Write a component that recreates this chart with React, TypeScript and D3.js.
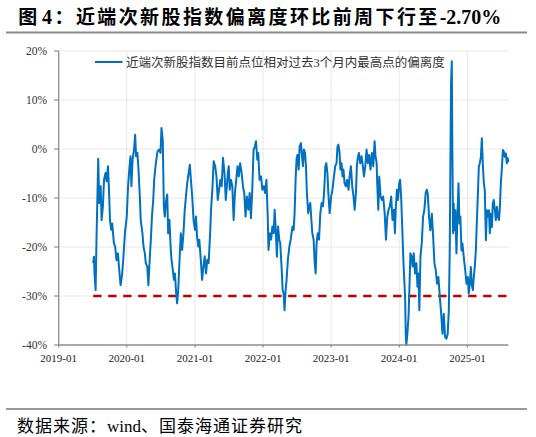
import * as d3 from 'd3';

// readings of the line, per year: day (MM-DD) and deviation (%)
const days2019 = [
  '07-05', '07-09', '07-12', '07-18', '07-23',
  '08-01', '08-06', '08-14', '08-19', '08-26',
  '09-01', '09-09', '09-15', '09-22', '09-27',
  '10-03', '10-10', '10-15', '10-24', '10-31',
  '11-07', '11-15', '11-20', '11-29',
  '12-06', '12-13', '12-22',
];
const dev2019 = [
  -23.3, -22, -25.4, -28.8, -17.9,
  -2, -11, -7.6, -14.5, -11.7,
  -6.3, -4.9, -6.6, -3.5, -7.6,
  -14.5, -16.5, -15.2, -19.2, -20,
  -22.7, -21.3, -24, -27.8,
  -26, -22.7, -17.2,
];

const days2020 = [
  '01-01', '01-08', '01-16', '01-21', '01-26',
  '02-01', '02-09', '02-15', '02-20', '02-27',
  '03-04', '03-11', '03-16', '03-25', '03-31',
  '04-07', '04-12', '04-20', '04-26',
  '05-02', '05-09', '05-15', '05-22', '05-27',
  '06-05', '06-14', '06-23', '06-30',
  '07-05', '07-12', '07-18', '07-23', '07-30',
  '08-05', '08-10', '08-17', '08-23', '08-28',
  '09-04', '09-10', '09-15', '09-22', '09-27',
  '10-03', '10-10', '10-17', '10-24', '10-31',
  '11-07', '11-15', '11-20', '11-29',
  '12-04', '12-10', '12-17', '12-24',
];
const dev2020 = [
  -13.8, -7.6, -3.5, -1.5, -7.6,
  -2.2, -0.1, 2.9, -1.5, -0.8,
  -4.2, -9.7, -14.5, -17.2, -20,
  -21.3, -23.3, -24, -27.8,
  -23.3, -18.6, -13.8, -10.4, -6.3,
  -2.9, -0.5, -0.1, -0.8,
  4.3, 1.9, -11.7, -13.8, -10.4,
  -9.3, -17.2, -14.5, -19.9, -22.6,
  -24.7, -26.7, -25.4, -29.4, -31.5,
  -28.8, -22.6, -17.2, -20.6, -17.2,
  -12.4, -9, -7, -4.6,
  -3.2, -6.3, -9.7, -14.5,
];

const days2021 = [
  '01-01', '01-06', '01-12', '01-19', '01-24',
  '02-01', '02-08', '02-15', '02-22',
  '03-01', '03-08', '03-15', '03-23', '03-28',
  '04-04', '04-11', '04-19', '04-26',
  '05-03', '05-10', '05-17', '05-24', '05-31',
  '06-08', '06-15', '06-26',
  '07-01', '07-06', '07-13', '07-20', '07-27',
  '08-03', '08-10', '08-17', '08-24', '08-31',
  '09-08', '09-15', '09-22', '09-29',
  '10-06', '10-14', '10-21', '10-28',
  '11-04', '11-11', '11-18', '11-24',
  '12-01', '12-06', '12-13', '12-21', '12-28',
];
const dev2021 = [
  -16.5, -13.8, -17.9, -19.9, -18.5,
  -22.6, -26.7, -24, -21.9,
  -25.4, -22.6, -23.3, -17.2, -12.4,
  -8.3, -2.5, -3.5, -5.6,
  -10.4, -8.3, -6.3, -7.6, -1.8,
  -4.9, -10.4, -4.9,
  -3.5, -8.3, -6.3, -7.6, -14.5,
  -9, -6.3, -3.5, -5.6, -2.9,
  -4.9, -7.6, -9, -13.8,
  -9.7, -12.4, -9, -14.1,
  -8.3, -0.1, 0.5, 1.6,
  -2.2, -0.8, -6.3, -5.6, -8.3,
];

const days2022 = [
  '01-05', '01-12', '01-19', '01-26', '01-30',
  '02-06', '02-13', '02-20', '02-27',
  '03-04', '03-11', '03-16', '03-22', '03-29',
  '04-03', '04-10', '04-16', '04-21', '04-26',
  '05-02', '05-07', '05-14', '05-22', '05-29',
  '06-08', '06-14', '06-19', '06-25', '06-30',
  '07-05', '07-11', '07-16', '07-23', '07-29',
  '08-03', '08-08', '08-14', '08-19', '08-24', '08-31',
  '09-06', '09-11', '09-17', '09-22', '09-29',
  '10-05', '10-10', '10-15', '10-21', '10-28',
  '11-04', '11-11', '11-18', '11-24',
  '12-01', '12-06', '12-12', '12-17', '12-24',
];
const dev2022 = [
  -7.6, -9, -6.3, -13.8, -20.6,
  -17.2, -18.5, -15.8, -17.2,
  -12.4, -17.2, -22, -15.8, -18.5,
  -19.2, -24, -28.8, -29.4, -32.9,
  -28.8, -26.7, -22.6, -19.9, -18.5,
  -15.8, -16.5, -13.1, -5.6, -1.8,
  -1.2, -4.2, 0.5, 1.2, -1.5,
  -3.5, -0.1, -0.8, -3.5, -9, -13.1,
  -11.7, -11, -14.5, -17.2, -18.5,
  -23.3, -25.4, -19.2, -17.2, -18.5,
  -13.1, -11, -11.7, -9,
  -3.5, -2.9, -4.9, -9, -13.1,
];

const days2023 = [
  '01-01', '01-08', '01-16', '01-23', '01-30',
  '02-04', '02-09', '02-15', '02-20', '02-26',
  '03-03', '03-08', '03-14', '03-21', '03-28',
  '04-04', '04-10', '04-17', '04-24',
  '05-01', '05-07', '05-14', '05-19', '05-24', '05-30',
  '06-06', '06-13', '06-20', '06-26',
  '07-03', '07-10', '07-17', '07-24', '07-31',
  '08-08', '08-15', '08-22', '08-27',
  '09-02', '09-05', '09-11', '09-16', '09-23', '09-30',
  '10-07', '10-15', '10-22', '10-29',
  '11-05', '11-12', '11-19', '11-26',
  '12-04', '12-09', '12-14', '12-20', '12-25',
];
const dev2023 = [
  -9.7, -8.3, -5.6, -3.5, -2.9,
  0.5, 0.9, -0.8, -4.2, -2.9,
  -5.6, -4.2, -7, -7.6, -6.3,
  -8.3, -5.6, -3.5, -7.6,
  -9.7, -12.4, -9, -3.5, -1.8, -0.8,
  -2.9, -1.5, -3.5, -5.6,
  -3.5, -0.1, -2.9, -1.2, -4.2,
  -0.8, -3.5, 1.6, -1.5,
  -2.9, -7, -12.4, -5.6, -9.7, -10.4,
  -9.7, -13.1, -18.5, -13.8,
  -12.4, -11.7, -9.7, -14.5,
  -12.4, -17.2, -11.7, -8.3, -10.4,
];

const days2024 = [
  '01-01', '01-06', '01-12', '01-17', '01-24', '01-30',
  '02-02', '02-05', '02-08', '02-14', '02-20', '02-25',
  '03-01', '03-08', '03-13', '03-19', '03-26',
  '04-02', '04-08', '04-13', '04-18', '04-24',
  '05-01', '05-08', '05-15', '05-22', '05-28',
  '06-02', '06-09', '06-16', '06-24',
  '07-01', '07-08', '07-15', '07-22', '07-29',
  '08-06', '08-13', '08-20', '08-27',
  '09-03', '09-10', '09-17', '09-23', '09-28',
  '10-02', '10-05', '10-09', '10-12', '10-16', '10-19', '10-23', '10-28',
  '11-03', '11-08', '11-14', '11-19', '11-24', '11-30',
  '12-05', '12-12', '12-20', '12-27',
];
const dev2024 = [
  -7, -6.3, -10.4, -15.8, -23.3, -28.1,
  -30.8, -37.6, -40, -37.6, -34.2, -28.1,
  -21.3, -22, -24, -21.3, -25.4,
  -23.3, -28.1, -25.4, -32.9, -21.9,
  -19.2, -13.8, -12.4, -9, -8.3,
  -9.1, -13.8, -16.6, -13.2,
  -17.9, -23.4, -24.7, -27.5, -26.1,
  -30.2, -33.6, -37.7, -33.6,
  -38.4, -38.7, -37.7, -32.9, -20.7,
  -0.2, 13.4, 17.9, -0.2, -17.2, -11.1, -16.6, -12.5,
  -21.3, -13.8, -7, -15.2, -13.8, -20.7,
  -19.3, -22, -24.7, -27.5,
];

const days2025 = [
  '01-03', '01-08', '01-14', '01-19', '01-24', '01-30',
  '02-04', '02-09', '02-15', '02-20', '02-26',
  '03-03', '03-08', '03-14', '03-19', '03-25', '03-30',
  '04-04', '04-10', '04-15', '04-20', '04-26',
  '05-01', '05-06', '05-12', '05-17', '05-22', '05-28',
  '06-02', '06-08', '06-13', '06-19', '06-24', '06-29',
  '07-05', '07-10', '07-15', '07-20', '07-26', '07-31',
  '08-05', '08-08',
];
const dev2025 = [
  -26.1, -29.5, -27.5, -24.1, -27.5, -28.8,
  -26.1, -24.1, -20.7, -15.2, -9.1,
  -3.6, -2.9, -1.6, 2.2, -3.6, -7,
  -8.4, -18.6, -12.5, -13.8, -12.5,
  -17.2, -13.2, -15.9, -11.1, -10.4, -12.5,
  -14.5, -11.8, -13.8, -14.5, -11.8, -7,
  -3.6, -0.2, -0.5, -1.6, -0.9, -2.9,
  -1.9, -2.7,
];

const years = [
  { year: 2019, days: days2019, dev: dev2019 },
  { year: 2020, days: days2020, dev: dev2020 },
  { year: 2021, days: days2021, dev: dev2021 },
  { year: 2022, days: days2022, dev: dev2022 },
  { year: 2023, days: days2023, dev: dev2023 },
  { year: 2024, days: days2024, dev: dev2024 },
  { year: 2025, days: days2025, dev: dev2025 },
];

const yTicks = [20, 10, 0, -10, -20, -30, -40];
const xTickLabels = ['2019-01', '2020-01', '2021-01', '2022-01', '2023-01', '2024-01', '2025-01'];
const threshold = -30;

// title / source split into CJK and latin runs
const titleParts = ['图', '4', '：近端次新股指数偏离度环比前周下行至', '-2.70%'];
const legendLabel = '近端次新股指数目前点位相对过去3个月内最高点的偏离度';
const sourceParts = ['数据来源：', 'wind', '、国泰海通证券研究'];

const parse = d3.timeParse('%Y-%m-%d');

export default function App() {
  const width = 536;
  const height = 437;
  const plot = { left: 58.7, right: 508.3, top: 51, bottom: 345 };

  const points = years.flatMap(({ year, days, dev }) =>
    days.slice(0, dev.length).map((d, i) => ({ date: parse(`${year}-${d}`) as Date, value: dev[i] }))
  );

  const x = d3.scaleTime()
    .domain([parse('2019-01-01') as Date, parse('2025-08-08') as Date])
    .range([plot.left, plot.right]);
  const y = d3.scaleLinear().domain([-40, 20]).range([plot.bottom, plot.top]);

  const line = d3.line<{ date: Date; value: number }>()
    .x(d => x(d.date))
    .y(d => y(d.value));

  const serif = '"Times New Roman", "Liberation Serif", serif';
  const cjk = '"Noto Sans CJK SC", sans-serif';
  const xTickDates = xTickLabels.map(t => parse(`${t}-01`) as Date);

  return (
    <svg
      width={width}
      height={height}
      style={{ position: 'absolute', left: 0, top: 0, background: '#fff' }}
    >
      {/* title */}
      <text y={24} fontWeight="bold" fill="#000">
        <tspan x={18.3} fontFamily={cjk} fontSize={19}>{titleParts[0]}</tspan>
        <tspan x={42} fontFamily={serif} fontSize={20}>{titleParts[1]}</tspan>
        <tspan x={54.5} fontFamily={cjk} fontSize={19} letterSpacing={2.4}>{titleParts[2]}</tspan>
        <tspan fontFamily={serif} fontSize={20}>{titleParts[3]}</tspan>
      </text>
      <line x1={6} x2={527} y1={32.5} y2={32.5} stroke="#8a8a8a" strokeWidth={2.2} />

      {/* grid */}
      {yTicks.filter(t => t !== -40).map(t => (
        <line key={`gy${t}`} x1={plot.left} x2={plot.right} y1={y(t)} y2={y(t)} stroke="#e8e8e8" strokeWidth={1} />
      ))}
      {xTickDates.slice(1).map((d, i) => (
        <line key={`gx${i}`} x1={x(d)} x2={x(d)} y1={plot.top} y2={plot.bottom} stroke="#e8e8e8" strokeWidth={1} />
      ))}

      {/* threshold */}
      <line
        x1={x(points[0].date)}
        x2={plot.right}
        y1={y(threshold)}
        y2={y(threshold)}
        stroke="#c00000"
        strokeWidth={2.4}
        strokeDasharray="8.3 6.7"
      />

      {/* series */}
      <path d={line(points) ?? ''} fill="none" stroke="#0070c0" strokeWidth={2} strokeLinejoin="round" />

      {/* y axis */}
      <line x1={plot.left} x2={plot.left} y1={plot.top} y2={plot.bottom} stroke="#8c8c8c" strokeWidth={1.3} />
      {yTicks.map(t => (
        <g key={`ty${t}`}>
          <line x1={plot.left - 4.5} x2={plot.left} y1={y(t)} y2={y(t)} stroke="#8c8c8c" strokeWidth={1.2} />
          <text
            x={47}
            y={y(t)}
            dy="0.35em"
            textAnchor="end"
            fontFamily={serif}
            fontSize={11.5}
            fill="#333"
          >
            {`${t}%`}
          </text>
        </g>
      ))}

      {/* x axis */}
      <line x1={plot.left} x2={plot.right} y1={plot.bottom} y2={plot.bottom} stroke="#8c8c8c" strokeWidth={1.3} />
      {xTickDates.map((d, i) => (
        <g key={`tx${i}`}>
          <line x1={x(d)} x2={x(d)} y1={plot.bottom} y2={plot.bottom + 2.5} stroke="#8c8c8c" strokeWidth={1.2} />
          <text
            x={x(d)}
            y={361.5}
            textAnchor="middle"
            fontFamily={serif}
            fontSize={11}
            fill="#222"
          >
            {xTickLabels[i]}
          </text>
        </g>
      ))}

      {/* legend */}
      <line x1={95} x2={122.5} y1={62} y2={62} stroke="#0070c0" strokeWidth={2} />
      <text x={126} y={66.5} fontFamily={`${serif.split(',')[0]}, ${cjk}`} fontSize={12.5} fill="#333">
        {legendLabel}
      </text>

      {/* source */}
      <line x1={6} x2={527} y1={409} y2={409} stroke="#333" strokeWidth={1} />
      <text y={432} fill="#000" fontSize={17}>
        <tspan x={17} fontFamily={cjk} letterSpacing={1}>{sourceParts[0]}</tspan>
        <tspan fontFamily={serif}>{sourceParts[1]}</tspan>
        <tspan fontFamily={cjk} letterSpacing={1}>{sourceParts[2]}</tspan>
      </text>
    </svg>
  );
}
